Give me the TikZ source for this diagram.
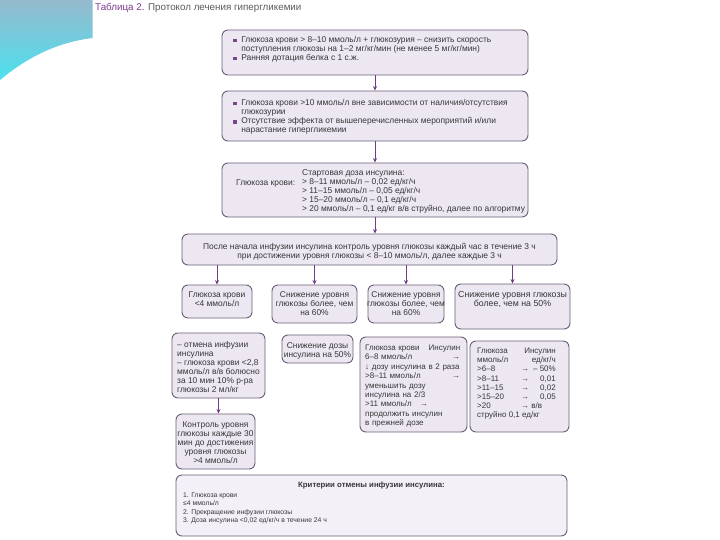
\documentclass[tikz,border=0pt]{standalone}
\usepackage{fontspec}
\setmainfont{Liberation Sans}
\usetikzlibrary{arrows.meta}
\definecolor{boxfill}{RGB}{236,231,241}
\definecolor{boxfilllight}{RGB}{244,240,247}
\definecolor{boxborder}{RGB}{105,95,120}
\definecolor{arrowcol}{RGB}{112,60,130}
\definecolor{textcol}{RGB}{55,55,55}
\definecolor{titlepurple}{RGB}{125,60,145}
\definecolor{titlegray}{RGB}{90,90,90}
\definecolor{decotop}{RGB}{150,185,205}
\definecolor{decobot}{RGB}{75,225,238}
\definecolor{bulcol}{RGB}{120,70,140}
\newcommand\fsz{\fontsize{8.4}{9}\selectfont}
\newcommand\bul{\textcolor{bulcol}{\rule[0.3pt]{3.6pt}{3.6pt}}\hspace{4.5pt}}
\begin{document}
\begin{tikzpicture}[x=1pt,y=-1pt,
  box/.style={draw=boxborder, fill=boxfill, rounded corners=6pt, line width=0.9pt, inner sep=0pt},
  ltxt/.style={text=textcol, font=\fsz, inner sep=0pt, align=left},
  ctxt/.style={text=textcol, font=\fsz, inner sep=0pt, align=center},
  arr/.style={draw=arrowcol, line width=0.8pt, -{Stealth[length=4.5pt,width=4pt]}}]
\fill[white] (0,0) rectangle (720,540);
\useasboundingbox (0,0) rectangle (720,540);
% decoration
\shade[top color=decotop, bottom color=decobot] (0,0) -- (92.7,0) -- (92.7,38) .. controls (60,42) and (30,55) .. (0,80) -- cycle;
% title
\node[anchor=base west, inner sep=0pt, font=\fontsize{9.8}{11}\selectfont] (title) at (95,10.5) {\textcolor{titlepurple}{Таблица 2.} \textcolor{titlegray}{Протокол лечения гипергликемии}};
% boxes
\node[box, minimum width=306pt, minimum height=45pt] (b1) at (375,52.5) {};
\node[box, minimum width=306pt, minimum height=50pt] (b2) at (375,116) {};
\node[box, minimum width=306pt, minimum height=54pt] (b3) at (375,190) {};
\node[box, minimum width=375pt, minimum height=31pt] (b4) at (369.5,249.5) {};
\node[box, minimum width=70pt, minimum height=33pt] (b5a) at (217,301.5) {};
\node[box, minimum width=85pt, minimum height=38pt] (b5b) at (314.5,304) {};
\node[box, minimum width=76pt, minimum height=38pt] (b5c) at (406,304) {};
\node[box, minimum width=115pt, minimum height=45pt] (b5d) at (512.5,306.5) {};
\node[box, minimum width=93pt, minimum height=65pt] (b6a) at (218.5,365.5) {};
\node[box, minimum width=71pt, minimum height=28pt] (b6b) at (317.5,349) {};
\node[box, minimum width=107pt, minimum height=95pt] (b6c) at (413.5,384.5) {};
\node[box, minimum width=99pt, minimum height=91pt] (b6d) at (519.5,386.5) {};
\node[box, minimum width=79pt, minimum height=55pt] (b7a) at (215.5,441.5) {};
\node[box, fill=boxfilllight, minimum width=391pt, minimum height=61pt] (b8) at (371.5,505.5) {};
% arrows
\draw[arr] (b1.south) -- (b2.north);
\draw[arr] (b2.south) -- (b3.north);
\draw[arr] (b3.south) -- (b3.south |- b4.north);
\draw[arr] (b4.south -| b5a.north) -- (b5a.north);
\draw[arr] (b4.south -| b5b.north) -- (b5b.north);
\draw[arr] (b4.south -| b5c.north) -- (b5c.north);
\draw[arr] (b4.south -| b5d.north) -- (b5d.north);
\draw[arr] (b6a.south) -- (b6a.south |- b7a.north);
% texts (anchor = baseline of the last line)
\node[ltxt, anchor=base west] (t1) at (233,60.5) {\bul Глюкоза крови > 8–10 ммоль/л + глюкозурия – снизить скорость\\\hspace*{8.1pt}поступления глюкозы на 1–2 мг/кг/мин (не менее 5 мг/кг/мин)\\\bul Ранняя дотация белка с 1 с.ж.};
\node[ltxt, anchor=base west, font=\fontsize{8.4}{8.7}\selectfont] (t2) at (233,132.6) {\bul Глюкоза крови >10 ммоль/л вне зависимости от наличия/отсутствия\\\hspace*{8.1pt}глюкозурии\\[1pt]\bul Отсутствие эффекта от вышеперечисленных мероприятий и/или\\\hspace*{8.1pt}нарастание гипергликемии};
\node[ltxt, anchor=base west] (t3a) at (236,185.5) {Глюкоза крови:};
\node[ltxt, anchor=base west] (t3b) at (302,211.5) {Стартовая доза инсулина:\\> 8–11 ммоль/л – 0,02 ед/кг/ч\\> 11–15 ммоль/л – 0,05 ед/кг/ч\\> 15–20 ммоль/л – 0,1 ед/кг/ч\\> 20 ммоль/л – 0,1 ед/кг в/в струйно, далее по алгоритму};
\node[ctxt, anchor=base] (t4) at (369.5,258.5) {После начала инфузии инсулина контроль уровня глюкозы каждый час в течение 3 ч\\при достижении уровня глюкозы < 8–10 ммоль/л, далее каждые 3 ч};
\node[ctxt, anchor=base] (t5a) at (217,306.5) {Глюкоза крови\\<4 ммоль/л};
\node[ctxt, anchor=base] (t5b) at (314.5,315.5) {Снижение уровня\\глюкозы более, чем\\на 60\%};
\node[ctxt, anchor=base] (t5c) at (406,315.5) {Снижение уровня\\глюкозы более, чем\\на 60\%};
\node[ctxt, anchor=base, font=\fontsize{8.8}{9}\selectfont] (t5d) at (512.5,306.5) {Снижение уровня глюкозы\\более, чем на 50\%};
\node[ltxt, anchor=base west] (t6a) at (177,392.5) {– отмена инфузии\\инсулина\\– глюкоза крови <2,8\\ммоль/л в/в болюсно\\за 10 мин 10\% р-ра\\глюкозы 2 мл/кг};
\node[ctxt, anchor=base] (t6b) at (317.5,357.5) {Снижение дозы\\инсулина на 50\%};
\node[ltxt, anchor=base west, text width=95pt, font=\fontsize{8}{9.4}\selectfont] (t6c) at (365,350.5) {Глюкоза крови\hfill Инсулин\\6–8 ммоль/л\hfill →\\↓ дозу инсулина в 2 раза\\>8–11 ммоль/л\hfill →\\уменьшить дозу\\инсулина на 2/3\\>11 ммоль/л\hspace{8pt}→\\продолжить инсулин\\в прежней дозе};
\node[ltxt, anchor=base west, font=\fontsize{8}{9.2}\selectfont] (t6d1) at (477,417.9) {Глюкоза\\ммоль/л\\>6–8\\>8–11\\>11–15\\>15–20\\>20\\струйно 0,1 ед/кг};
\node[ltxt, anchor=base west, font=\fontsize{8}{9.2}\selectfont] (t6d2) at (521,408.7) {→\\→\\→\\→\\→ в/в};
\node[ltxt, anchor=base east, align=right, font=\fontsize{8}{9.2}\selectfont] (t6d3) at (556,399.5) {Инсулин\\ед/кг/ч\\– 50\%\\0,01\\0,02\\0,05};
\node[ctxt, anchor=base] (t7a) at (215.5,463.5) {Контроль уровня\\глюкозы каждые 30\\мин до достижения\\уровня глюкозы\\>4 ммоль/л};
\node[ctxt, anchor=base, font=\bfseries\fontsize{7.8}{9}\selectfont] (t8a) at (371.5,487.5) {Критерии отмены инфузии инсулина:};
\node[ltxt, anchor=base west, font=\fontsize{6.8}{8.3}\selectfont] (t8b) at (183,522.4) {1. Глюкоза крови\\≤4 ммоль/л\\2. Прекращение инфузии глюкозы\\3. Доза инсулина <0,02 ед/кг/ч в течение 24 ч};
\end{tikzpicture}
\end{document}
